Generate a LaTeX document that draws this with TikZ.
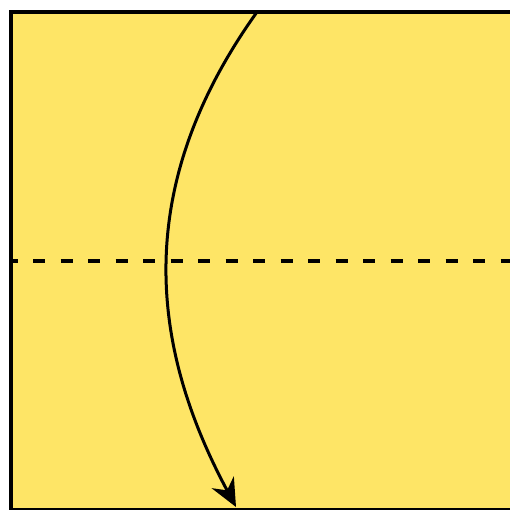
\documentclass[tikz,border=0pt]{standalone}
\usetikzlibrary{arrows.meta}
\definecolor{paper}{RGB}{254,229,102}
\begin{document}
\begin{tikzpicture}[>={Stealth[length=0.56cm,width=0.5cm]}]
\useasboundingbox (0,0) rectangle (10.2,10.18);
\draw[line width=0.08cm,fill=paper] (0.21,-0.02) rectangle (10.23,9.94);
\draw[line width=0.08cm,dash pattern=on 0.24cm off 0.31cm,dash phase=0.1cm] (0.21,4.96)--(10.2,4.96);

\coordinate (top) at (5.14,9.94);
\coordinate (tip) at (4.72,0.04);
\draw[->,line width=0.06cm] (top) .. controls (2.54,6.31) and (3.08,3.10) .. (tip);
\end{tikzpicture}
\end{document}
